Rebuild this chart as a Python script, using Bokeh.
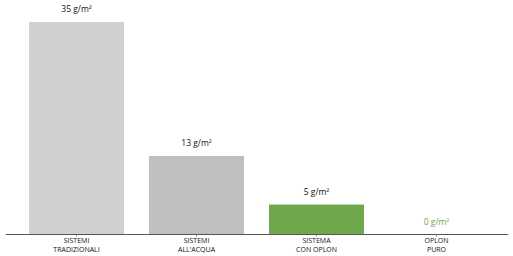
from bokeh.plotting import figure
from bokeh.models import ColumnDataSource, Range1d, Span
from bokeh.core.properties import value
from bokeh.embed import file_html
from bokeh.resources import INLINE

categories = ["SISTEMI\nTRADIZIONALI", "SISTEMI\nALL'ACQUA", "SISTEMA\nCON OPLON", "OPLON\nPURO"]
values = [35, 13, 5, 0]
labels = ["35 g/m²", "13 g/m²", "5 g/m²", "0 g/m²"]
bar_colors = ["#d0d0d0", "#bfbfbf", "#6fa84c", "#6fa84c"]
label_colors = ["#111111", "#111111", "#111111", "#6fa84c"]

xs = list(range(len(categories)))
zeros = [0] * len(categories)
src = ColumnDataSource(dict(x=xs, top=values, zero=zeros, cat=categories,
                            label=labels, color=bar_colors, lcolor=label_colors))

p = figure(width=513, height=256, output_backend="svg", toolbar_location=None,
           x_range=Range1d(-0.592, 3.6), y_range=Range1d(-3.615, 38.45),
           min_border_left=5, min_border_right=5, min_border_top=0, min_border_bottom=0)
p.outline_line_color = None
p.background_fill_color = "white"
p.border_fill_color = "white"
p.xgrid.visible = False
p.ygrid.visible = False
p.xaxis.visible = False
p.yaxis.visible = False

p.vbar(x="x", top="top", width=0.8, bottom=0, fill_color="color", line_color="white",
       line_width=1, source=src)
p.text(x="x", y="top", text="label", text_color="lcolor", source=src,
       text_align="center", text_baseline="middle", y_offset=-13,
       text_font=value("Open Sans"), text_font_size="8.5px")

# baseline (x axis line) and small ticks
p.add_layout(Span(location=0, dimension="width", line_color="#555555", line_width=1.2))
p.segment(x0="x", y0="zero", x1="x", y1=-0.35, line_color="#999999", line_width=1, source=src)

# category labels (two lines)
p.text(x="x", y="zero", text="cat", source=src, text_align="center", text_baseline="top",
       y_offset=2, text_color="#111111", text_font=value("Open Sans"),
       text_font_size="7px", text_line_height=0.95)

open("out.html", "w").write(file_html(p, INLINE))
